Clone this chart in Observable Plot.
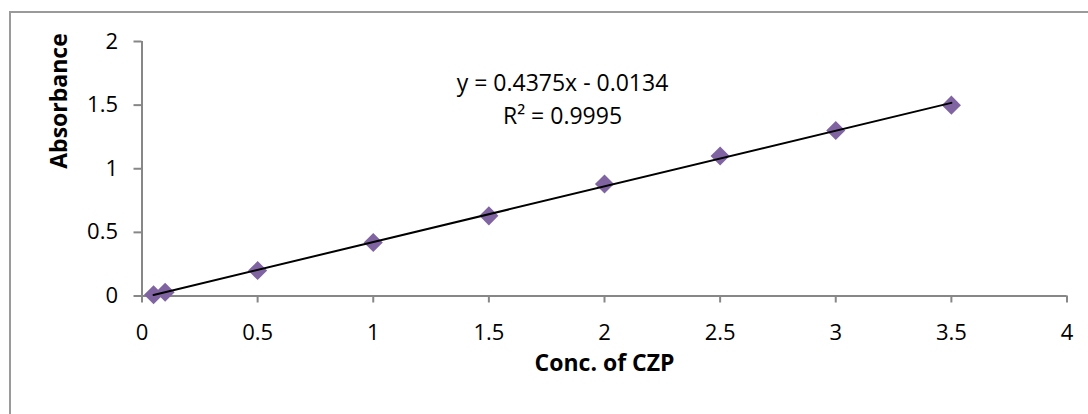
<!DOCTYPE html>
<html><head><meta charset="utf-8">
<script src="https://cdn.jsdelivr.net/npm/d3@7"></script>
<script src="https://cdn.jsdelivr.net/npm/@observablehq/plot@0.6"></script>
<style>
html,body{margin:0;padding:0;background:#fff;overflow:hidden;width:1088px;height:414px;}
#frame{position:absolute;left:9px;top:11px;width:1200px;height:600px;border-left:2px solid #9a9a9a;border-top:2px solid #9a9a9a;}
#chart{position:absolute;left:0;top:0;}
</style></head><body>
<div id="frame"></div><div id="chart"></div>
<script>
const conc = [0.05, 0.1, 0.5, 1, 1.5, 2, 2.5, 3, 3.5];
const absorbance = [0.01, 0.03, 0.2, 0.42, 0.63, 0.88, 1.1, 1.3, 1.5];
const xTicks = [0, 0.5, 1, 1.5, 2, 2.5, 3, 3.5, 4];
const yTicks = [0, 0.5, 1, 1.5, 2];
const slope = 0.4375, intercept = -0.0134;
const xTitle = "Conc. of CZP", yTitle = "Absorbance";
const equation = ["y = 0.4375x - 0.0134", "R² = 0.9995"];

const points = conc.map((x, i) => ({x, y: absorbance[i]}));
const trend = d3.extent(conc).map(x => ({x, y: slope * x + intercept}));
const axisColor = "#878787";
const font = "'Open Sans', sans-serif";

const chart = Plot.plot({
  width: 1088, height: 414,
  marginLeft: 141.5, marginRight: 21.5, marginTop: 41, marginBottom: 118.5,
  x: {domain: [0, 4]},
  y: {domain: [0, 2]},
  style: {fontFamily: font, background: "transparent", overflow: "visible", color: "#000"},
  marks: [
    Plot.ruleY([0], {stroke: axisColor, strokeWidth: 2}),
    Plot.ruleX([0], {stroke: axisColor, strokeWidth: 2}),
    Plot.axisX({ticks: xTicks, tickFormat: d => String(d), tickSize: 7, tickPadding: 21, stroke: axisColor, strokeWidth: 2, fill: "#000", fontSize: 22, label: null}),
    Plot.axisY({ticks: yTicks, tickFormat: d => String(d), tickSize: 8, tickPadding: 16, stroke: axisColor, strokeWidth: 2, fill: "#000", fontSize: 22, label: null}),
    Plot.text([xTitle], {frameAnchor: "bottom", dy: 74.5, fontSize: 23, fontWeight: "bold", fill: "#000"}),
    Plot.text([yTitle], {frameAnchor: "left", dx: -82.5, rotate: -90, fontSize: 23, fontWeight: "bold", fill: "#000"}),
    Plot.dot(points, {x: "x", y: "y", symbol: "diamond2", r: 8.6, fill: "#8064A2", stroke: "none"}),
    Plot.line(trend, {x: "x", y: "y", stroke: "#000", strokeWidth: 2}),
    Plot.text([equation.join("\n")], {frameAnchor: "top", dx: -42, dy: 55.4, lineAnchor: "middle", lineHeight: 1.42, fontSize: 23, fill: "#000"})
  ]
});
document.getElementById("chart").appendChild(chart);
</script>
</body></html>
